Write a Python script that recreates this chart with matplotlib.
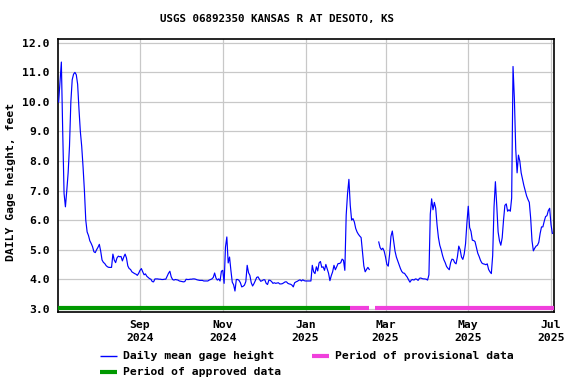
import numpy as np
import pandas as pd
import matplotlib
matplotlib.use('Agg')
import matplotlib.pyplot as plt
import matplotlib.dates as mdates
from matplotlib.lines import Line2D

# ---------------- data (daily mean gage height, feet) ----------------
start_date = '2024-07-03'
jul24 = [10.0, 10.7, 11.35, 9.0, 6.9, 6.45, 7.0, 7.6, 8.5, 10.0, 10.75, 10.94, 11.0, 10.92, 10.6,
         9.75, 9.0, 8.5, 7.8, 7.0, 6.0, 5.6, 5.48, 5.3, 5.21, 5.1, 4.93, 4.9, 5.0]
aug24 = [5.08, 5.18, 4.95, 4.65, 4.57, 4.53, 4.46, 4.42, 4.40, 4.40, 4.40, 4.85, 4.65, 4.56, 4.72,
         4.78, 4.76, 4.77, 4.62, 4.75, 4.85, 4.72, 4.45, 4.36, 4.33, 4.25, 4.22, 4.19, 4.17, 4.13, 4.2]
sep24 = [4.3, 4.36, 4.25, 4.15, 4.18, 4.10, 4.06, 4.02, 4.0, 3.92, 3.91, 4.01, 4.01, 4.01, 4.0,
         4.0, 3.99, 3.99, 4.0, 4.0, 4.10, 4.2, 4.27, 4.08, 3.99, 3.97, 3.99, 3.98, 3.97, 3.94]
oct24 = [3.93, 3.92, 3.91, 3.92, 4.0, 3.99, 3.99, 4.0, 4.0, 4.01, 4.01, 4.0, 3.98, 3.97, 3.96,
         3.96, 3.96, 3.94, 3.94, 3.94, 3.94, 3.97, 3.99, 4.01, 4.06, 4.21, 4.04, 3.97, 4.01, 3.94, 4.27]
nov24 = [4.30, 3.86, 5.09, 5.43, 4.55, 4.75, 4.30, 3.90, 3.81, 3.60, 3.99, 3.99, 3.96, 3.88, 3.74,
         3.76, 3.80, 3.92, 4.47, 4.22, 4.13, 3.88, 3.77, 3.85, 3.95, 4.06, 4.08, 4.0, 3.93, 3.95]
dec24 = [3.98, 3.98, 3.86, 3.82, 3.97, 3.96, 3.92, 3.86, 3.88, 3.86, 3.87, 3.88, 3.84, 3.84, 3.85,
         3.88, 3.91, 3.91, 3.86, 3.84, 3.83, 3.80, 3.74, 3.88, 3.91, 3.93, 3.96, 3.98, 3.94, 3.98, 3.95]
jan25 = [3.94, 3.94, 3.94, 3.94, 3.94, 4.47, 4.25, 4.19, 4.42, 4.28, 4.55, 4.60, 4.40, 4.42, 4.30,
         4.50, 4.35, 4.20, 3.95, 4.12, 4.25, 4.47, 4.32, 4.42, 4.53, 4.53, 4.56, 4.68, 4.64, 4.30, 6.17]
feb25 = [6.9, 7.38, 6.5, 6.0, 6.05, 5.94, 5.72, 5.60, 5.52, 5.46, 5.41, 4.92, 4.45, 4.25, 4.33,
         4.40, 4.33, np.nan, np.nan, np.nan, np.nan, np.nan, np.nan, 5.26, 5.07, 5.0, 5.05, 4.95]
mar25 = [4.75, 4.50, 4.44, 4.85, 5.45, 5.63, 5.28, 4.95, 4.75, 4.62, 4.50, 4.36, 4.26, 4.21, 4.20,
         4.13, 4.07, 3.98, 3.90, 3.97, 3.99, 3.97, 4.01, 4.0, 3.96, 4.03, 4.04, 4.02, 4.01, 4.01, 4.0]
apr25 = [3.97, 4.15, 6.2, 6.72, 6.35, 6.6, 6.4, 5.83, 5.41, 5.15, 5.0, 4.81, 4.66, 4.56, 4.43,
         4.37, 4.32, 4.56, 4.68, 4.66, 4.56, 4.52, 4.76, 5.12, 5.0, 4.75, 4.67, 4.85, 5.2, 5.9]
may25 = [6.47, 5.75, 5.62, 5.32, 5.31, 5.27, 5.07, 4.88, 4.77, 4.64, 4.55, 4.52, 4.51, 4.49, 4.52,
         4.33, 4.25, 4.19, 4.8, 6.45, 7.3, 6.5, 5.6, 5.3, 5.15, 5.4, 6.0, 6.5, 6.55, 6.3, 6.35]
jun25 = [6.3, 6.75, 11.2, 10.1, 8.4, 7.6, 8.2, 8.0, 7.6, 7.38, 7.17, 7.0, 6.82, 6.7, 6.6,
         6.07, 5.3, 4.96, 5.05, 5.12, 5.15, 5.25, 5.55, 5.77, 5.77, 5.96, 6.12, 6.15, 6.32, 6.4]
jul25 = [5.85, 5.55]

approved_period = ('2024-07-02 00:00', '2025-02-02 12:00')
provisional_periods = [('2025-02-02 12:00', '2025-02-16 12:00'),
                       ('2025-02-21 00:00', '2025-07-04 00:00')]

x_tick_dates = ['2024-09-01', '2024-11-01', '2025-01-01', '2025-03-01', '2025-05-01', '2025-07-01']
x_tick_labels = ['Sep\n2024', 'Nov\n2024', 'Jan\n2025', 'Mar\n2025', 'May\n2025', 'Jul\n2025']
y_ticks = [3.0, 4.0, 5.0, 6.0, 7.0, 8.0, 9.0, 10.0, 11.0, 12.0]

title = 'USGS 06892350 KANSAS R AT DESOTO, KS'
ylabel = 'DAILY Gage height, feet'
legend_labels = ['Daily mean gage height', 'Period of provisional data', 'Period of approved data']

# ---------------- styling ----------------
BLUE = '#0000ff'
GREEN = '#009900'
PINK = '#f040dc'
FONT = 'DejaVu Sans Mono'
plt.rcParams['font.family'] = [FONT]
plt.rcParams['font.weight'] = 'bold'

values = np.array(jul24 + aug24 + sep24 + oct24 + nov24 + dec24 + jan25 + feb25 +
                  mar25 + apr25 + may25 + jun25 + jul25, dtype=float)
dates = pd.date_range(start_date, periods=len(values), freq='D')

W, H = 576, 384
fig = plt.figure(figsize=(W / 100, H / 100), dpi=100)
ax = fig.add_axes([58.3 / W, 1 - 312 / H, (554 - 58.3) / W, (312 - 39.3) / H])

ax.plot(dates, values, color=BLUE, lw=0.85, zorder=3)

bar_y = 3.04
ax.plot([pd.Timestamp(t) for t in approved_period], [bar_y, bar_y], color=GREEN, lw=3.0,
        solid_capstyle='butt', zorder=4)
for p in provisional_periods:
    ax.plot([pd.Timestamp(t) for t in p], [bar_y, bar_y], color=PINK, lw=3.0,
            solid_capstyle='butt', zorder=4)

ax.set_xlim(pd.Timestamp('2024-07-02 18:00'), pd.Timestamp('2025-07-03 05:00'))
ax.set_ylim(2.89, 12.12)
ax.set_yticks(y_ticks)
ax.set_yticklabels([f'{v:.1f}' for v in y_ticks])
ax.set_xticks([pd.Timestamp(t) for t in x_tick_dates])
ax.set_xticklabels(x_tick_labels, linespacing=1.3)
ax.tick_params(axis='both', length=0, labelsize=8.2)
ax.tick_params(axis='y', pad=6)
ax.tick_params(axis='x', pad=6)
for lab in ax.get_xticklabels() + ax.get_yticklabels():
    lab.set_fontweight('bold')

ax.grid(True, color='#c8c8c8', lw=0.9, zorder=0)
for s in ax.spines.values():
    s.set_linewidth(1.2)
    s.set_color('black')

fig.text(277.5 / W, 1 - 19 / H, title, ha='center', va='center', fontsize=7.8,
         fontweight='bold')
fig.text(11 / W, 1 - 182 / H, ylabel, rotation=90, ha='center', va='center',
         fontsize=8.2, fontweight='bold')

# legend (manual placement)
def leg_item(x0, x1, y, color, lw, label, tx):
    fig.add_artist(Line2D([x0 / W, x1 / W], [1 - y / H, 1 - y / H], color=color, lw=lw,
                          solid_capstyle='butt', transform=fig.transFigure))
    fig.text(tx / W, 1 - y / H, label, ha='left', va='center', fontsize=8.2,
             fontweight='bold')

leg_item(100, 117, 356, BLUE, 1.0, legend_labels[0], 123.3)
leg_item(311.7, 329.3, 356, PINK, 3.0, legend_labels[1], 335)
leg_item(100, 117, 372, GREEN, 3.0, legend_labels[2], 123.3)

fig.savefig('out.png', dpi=100)
